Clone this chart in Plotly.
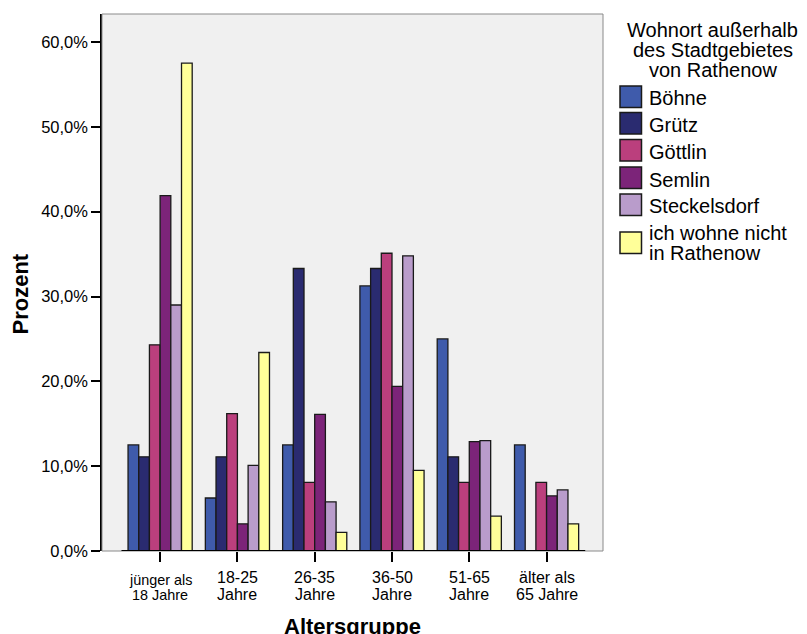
import plotly.graph_objects as go

categories = ["jünger als 18 Jahre", "18-25 Jahre", "26-35 Jahre", "36-50 Jahre", "51-65 Jahre", "älter als 65 Jahre"]
tick_lines = [["jünger als", "18 Jahre"], ["18-25", "Jahre"], ["26-35", "Jahre"],
              ["36-50", "Jahre"], ["51-65", "Jahre"], ["älter als", "65 Jahre"]]
series_names = ["Böhne", "Grütz", "Göttlin", "Semlin", "Steckelsdorf", "ich wohne nicht in Rathenow"]
legend_lines = [["Böhne"], ["Grütz"], ["Göttlin"], ["Semlin"], ["Steckelsdorf"], ["ich wohne nicht", "in Rathenow"]]
series_colors = ["#3F5BAB", "#2A2B70", "#BB3F7D", "#7C2479", "#B99CCB", "#FFFF99"]

boehne = [12.5, 6.25, 12.5, 31.25, 25.0, 12.5]
gruetz = [11.1, 11.1, 33.3, 33.3, 11.1, 0.0]
goettlin = [24.3, 16.2, 8.1, 35.1, 8.1, 8.1]
semlin = [41.9, 3.2, 16.1, 19.4, 12.9, 6.5]
steckelsdorf = [29.0, 10.1, 5.8, 34.8, 13.0, 7.2]
nicht_rathenow = [57.5, 23.4, 2.2, 9.5, 4.1, 3.2]
series_values = [boehne, gruetz, goettlin, semlin, steckelsdorf, nicht_rathenow]

y_ticks = [0, 10, 20, 30, 40, 50, 60]
y_tick_labels = ["0,0%", "10,0%", "20,0%", "30,0%", "40,0%", "50,0%", "60,0%"]

legend_title_lines = ["Wohnort außerhalb", "des Stadtgebietes", "von Rathenow"]
x_title = "Altersgruppe"
y_title = "Prozent"

FONT = "Liberation Sans, Arial, sans-serif"
W, H = 807, 634
L, R, T, B = 102, 603, 14, 551  # plot area in pixels

def px(x):
    return (x - L) / (R - L)

def py(y):
    return (B - y) / (B - T)

fig = go.Figure()
xs = list(range(len(categories)))
for name, color, vals in zip(series_names, series_colors, series_values):
    fig.add_trace(go.Bar(
        x=xs, y=vals, name=name, marker_color=color,
        marker_line_color="#1a1a1a", marker_line_width=1.3,
        showlegend=False,
    ))

shapes = []
annotations = []

def text(t, x, y, size, anchor="center", xref="paper", bold=False, angle=0):
    annotations.append(dict(
        text=("<b>%s</b>" % t) if bold else t,
        xref=xref, yref="paper", x=x, y=py(y),
        xanchor=anchor, yanchor="middle", showarrow=False, textangle=angle,
        font=dict(family=FONT, size=size, color="#000")))

# plot frame
shapes.append(dict(type="rect", xref="paper", yref="paper", x0=0, x1=1, y0=0, y1=1,
                   line=dict(color="#8a8a8a", width=1), layer="above"))
# black baseline under bars
shapes.append(dict(type="line", xref="x", yref="y", x0=-0.5, x1=5.5, y0=0, y1=0,
                   line=dict(color="#000000", width=2), layer="above"))

# legend title
for i, line in enumerate(legend_title_lines):
    text(line, px(712.5), [30, 50, 70][i], 20)
# legend items
sw_tops = [86, 112.5, 139.5, 167, 194, 232]
text_mid = [[98], [124.7], [152], [179.7], [205.7], [233, 253]]
for i, (lines, color) in enumerate(zip(legend_lines, series_colors)):
    top = sw_tops[i]
    shapes.append(dict(type="rect", xref="paper", yref="paper",
                       x0=px(620), x1=px(641.5), y0=py(top + 21.5), y1=py(top),
                       fillcolor=color, line=dict(color="#1a1a1a", width=1.5)))
    for j, ln in enumerate(lines):
        text(ln, px(647), text_mid[i][j], 20, anchor="left")

# x tick labels (two lines each)
for i, lines in enumerate(tick_lines):
    small = i == 0
    size = 14.4 if small else 16
    mids = [580, 595] if small else [577.5, 594.5]
    for j, ln in enumerate(lines):
        text(ln, xs[i], mids[j], size, xref="x")

# axis titles
text(x_title, px(352), 626.5, 22, bold=True)
text(y_title, px(19.5), 294, 22, bold=True, angle=-90)

fig.update_layout(
    width=W, height=H,
    margin=dict(l=L, r=W - R, t=T, b=H - B, pad=0),
    paper_bgcolor="white", plot_bgcolor="#F0F0F0",
    barmode="group", bargap=0.17, bargroupgap=0,
    font=dict(family=FONT, size=16, color="#000"),
    shapes=shapes, annotations=annotations,
    showlegend=False,
)
fig.update_xaxes(range=[-0.752, 5.73], tickmode="array", tickvals=xs, showticklabels=False,
                 showgrid=False, zeroline=False, showline=False,
                 ticks="outside", ticklen=10, tickwidth=1.5, tickcolor="#000")
fig.update_yaxes(range=[0, 63.3], tickmode="array", tickvals=y_ticks, ticktext=y_tick_labels,
                 showgrid=False, zeroline=False, showline=True, linecolor="#000", linewidth=1.5,
                 ticks="outside", ticklen=9, tickwidth=1.5, tickcolor="#000",
                 tickfont=dict(family=FONT, size=16.5, color="#000"))

fig.write_html("out.html", config={"displayModeBar": False},
               post_script="document.body.style.margin='0';document.body.style.overflow='hidden';")
